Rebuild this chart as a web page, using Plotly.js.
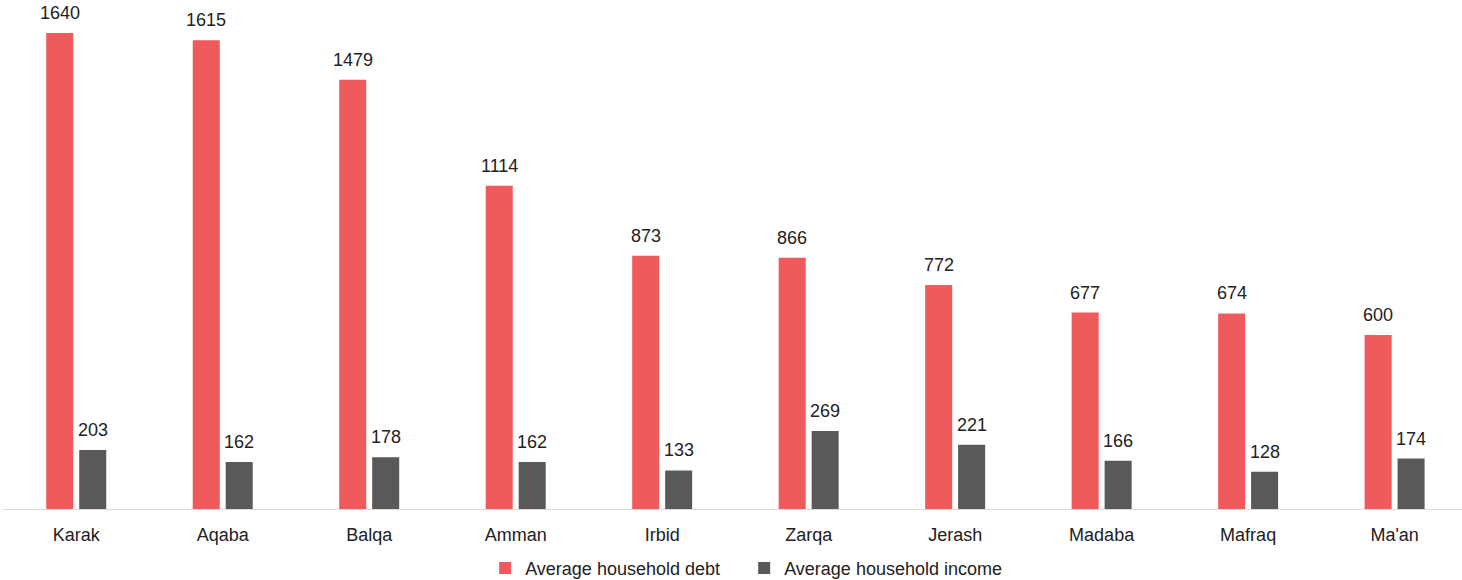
<!DOCTYPE html>
<html>
<head>
<meta charset="utf-8">
<script src="https://cdn.plot.ly/plotly-3.0.1.min.js"></script>
<style>
  html, body { margin: 0; padding: 0; background: #fff; }
  #plot { width: 1462px; height: 580px; }
</style>
</head>
<body>
<div id="plot"></div>
<script>
// governorates and averages (JOD)
let governorates = ['Karak', 'Aqaba', 'Balqa', 'Amman', 'Irbid', 'Zarqa', 'Jerash', 'Madaba', 'Mafraq', "Ma'an"];
let debt = [1640, 1615, 1479, 1114, 873, 866, 772, 677, 674, 600];
let income = [203, 162, 178, 162, 133, 269, 221, 166, 128, 174];

let trace1 = {
    x: governorates,
    y: debt,
    name: 'Average household debt',
    type: 'bar',
    marker: { color: '#EF5A5C' },
    hoverinfo: 'x+y'
};

let trace2 = {
    x: governorates,
    y: income,
    name: 'Average household income',
    type: 'bar',
    marker: { color: '#595959' },
    hoverinfo: 'x+y'
};

// value labels above each bar, shifted to its side of the group
let labels = [];
governorates.forEach((g, i) => {
    labels.push({ x: g, y: debt[i], text: String(debt[i]), xshift: -16.5 });
    labels.push({ x: g, y: income[i], text: String(income[i]), xshift: 16.5 });
});
labels = labels.map(a => Object.assign(a, {
    xref: 'x', yref: 'y', showarrow: false,
    yanchor: 'bottom', yshift: 8,
    font: { size: 18, color: '#222' }
}));

let layout = {
    width: 1462,
    height: 580,
    margin: { l: 3, r: 0, t: 0, b: 71 },
    barmode: 'group',
    bargap: 0.55,
    bargroupgap: 0.18,
    font: { family: 'Arial, "Liberation Sans", sans-serif', size: 18, color: '#222' },
    paper_bgcolor: '#fff',
    plot_bgcolor: '#fff',
    xaxis: {
        range: [-0.5, 9.46],
        showline: true,
        linecolor: '#d9d9d9',
        linewidth: 1,
        ticks: '',
        ticklabelstandoff: 9,
        showgrid: false,
        tickfont: { size: 18, color: '#222' }
    },
    yaxis: {
        range: [0, 1754],
        visible: false,
        showgrid: false,
        zeroline: false
    },
    annotations: labels,
    showlegend: true,
    legend: {
        orientation: 'h',
        entrywidth: 214,
        x: 0.509,
        xanchor: 'center',
        xref: 'container',
        y: 0.02,
        yref: 'container',
        yanchor: 'middle',
        font: { size: 18, color: '#222' }
    }
};

Plotly.newPlot('plot', [trace1, trace2], layout, { displayModeBar: false });
</script>
</body>
</html>
